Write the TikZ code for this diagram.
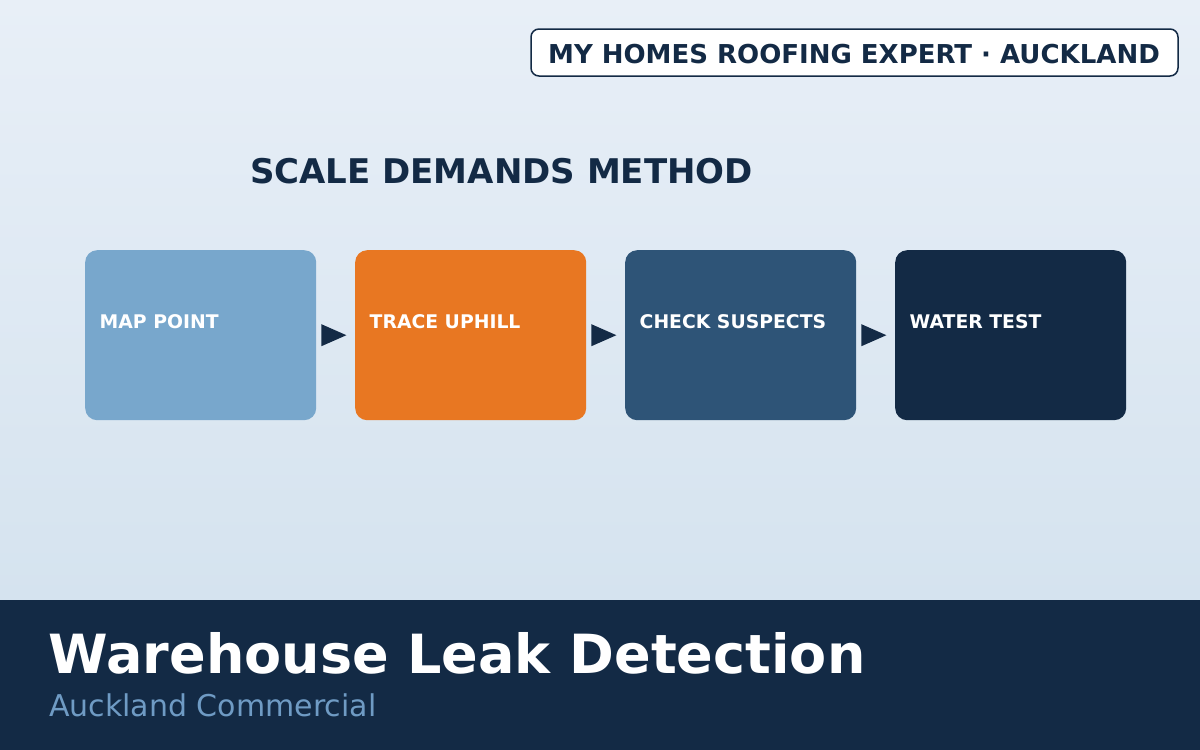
\documentclass[tikz,border=0pt]{standalone}
\usepackage{fontspec}
\setmainfont{DejaVu Sans}
\usetikzlibrary{calc}
\definecolor{navy}{HTML}{132A45}
\definecolor{bgtop}{HTML}{E8EFF7}
\definecolor{bgbot}{HTML}{D5E3EF}
\definecolor{lblue}{HTML}{78A7CC}
\definecolor{orng}{HTML}{E87722}
\definecolor{midblue}{HTML}{2E5477}
\definecolor{subblue}{HTML}{6F9BC4}
\tikzset{
  stepbox/.style={rounded corners=12pt, minimum width=231pt, minimum height=170pt, inner sep=0pt, anchor=north west},
  steplabel/.style={anchor=base west, text=white, font=\fontsize{18.8}{20}\selectfont\bfseries, inner sep=0pt},
  arrowtri/.style={fill=navy}
}
\begin{document}
\begin{tikzpicture}[x=1pt,y=-1pt]
\useasboundingbox (0,0) rectangle (1200,750);
\shade[top color=bgtop, bottom color=bgbot] (0,0) rectangle (1200,600);
\fill[navy] (0,600) rectangle (1200,750);
% badge
\node[draw=navy, line width=1.5pt, fill=white, rounded corners=8pt, minimum width=647pt, minimum height=47pt, inner sep=0pt] (badge) at (854.5,52.5) {};
\node[text=navy, font=\fontsize{26}{30}\selectfont\bfseries, inner sep=0pt, anchor=base] (badgetxt) at (854,63.5) {MY HOMES ROOFING EXPERT · AUCKLAND};
% title
\node[text=navy, font=\fontsize{34}{38}\selectfont\bfseries, inner sep=0pt, anchor=base] (title) at (501.5,183) {SCALE DEMANDS METHOD};
% steps
\node[stepbox, fill=lblue] (s1) at (85,250) {};
\node[stepbox, fill=orng] (s2) at (355,250) {};
\node[stepbox, fill=midblue] (s3) at (625,250) {};
\node[stepbox, fill=navy] (s4) at (895,250) {};
\node[steplabel] (l1) at ($(s1.north west)+(14.5,78)$) {MAP POINT};
\node[steplabel] (l2) at ($(s2.north west)+(14.5,78)$) {TRACE UPHILL};
\node[steplabel] (l3) at ($(s3.north west)+(14.5,78)$) {CHECK SUSPECTS};
\node[steplabel] (l4) at ($(s4.north west)+(14.5,78)$) {WATER TEST};
% arrows
\foreach \a/\b in {s1/s2, s2/s3, s3/s4}{
  \fill[arrowtri] ($(\a.east)+(5,-11)$) -- ($(\a.east)+(30,0)$) -- ($(\a.east)+(5,11)$) -- cycle;
}
% footer
\node[text=white, font=\fontsize{54}{60}\selectfont\bfseries, inner sep=0pt, anchor=base west] (main) at (48.5,673) {Warehouse Leak Detection};
\node[text=subblue, font=\fontsize{30}{34}\selectfont, inner sep=0pt, anchor=base west] (sub) at (49,716) {Auckland Commercial};
\end{tikzpicture}
\end{document}
